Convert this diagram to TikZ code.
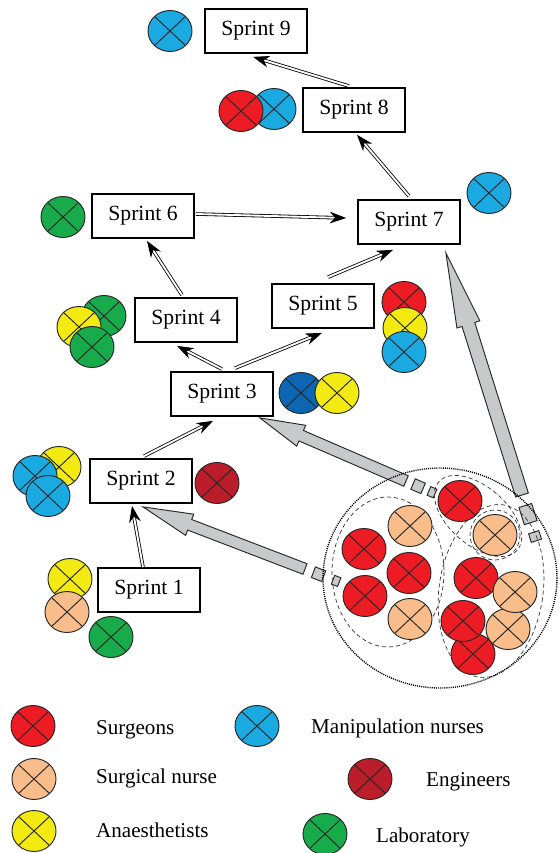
\documentclass[tikz,border=0pt]{standalone}
\usepackage{fontspec}
\setmainfont{Liberation Serif}
\usetikzlibrary{arrows.meta}
\usetikzlibrary{calc}

\definecolor{surgeon}{HTML}{ED1C24}
\definecolor{surgnurse}{HTML}{F9BD8B}
\definecolor{anaest}{HTML}{F3EA12}
\definecolor{manipnurse}{HTML}{1AA9E1}
\definecolor{engineer}{HTML}{BB1E2A}
\definecolor{lab}{HTML}{17AB4B}
\definecolor{darkblue}{HTML}{0C66B1}
\definecolor{teamgrey}{HTML}{C8C9CB}

\tikzset{
    sprint/.style={draw,line width=1.5pt,minimum width=3.06cm,minimum height=1.32cm,inner sep=0pt,font=\fontsize{18.5}{22}\selectfont},
    flow/.style={double,double distance=1.6pt,line width=0.7pt,-{Stealth[length=14pt,width=10pt,inset=4.5pt]}},
    member/.style={draw=black!85,line width=0.8pt},
    teamflow/.style={draw=black!85,fill=teamgrey,line width=0.8pt},
    subteam/.style={draw=black!80,line width=0.6pt,dash pattern=on 3.5pt off 2.5pt},
    team/.style={draw=black,line width=1.2pt,dash pattern=on 0.9pt off 0.9pt},
    legend/.style={anchor=base west,font=\fontsize{18}{22}\selectfont}
}

\newcommand{\member}[2]{%
    \filldraw[member,fill=#2] (#1) ellipse [x radius=22,y radius=20.5];
    \draw[member] ($(#1)+(-15.5,-14.5)$) -- ($(#1)+(15.5,14.5)$)
        ($(#1)+(-15.5,14.5)$) -- ($(#1)+(15.5,-14.5)$);}
\newcommand{\teamarrow}[5]{%
    \coordinate (neck) at ($(#2)!#3!(#1)$);
    \filldraw[teamflow] ($(#1)!#4!90:(#2)$) -- ($(neck)!#4!90:(#2)$) -- ($(neck)!#5!90:(#2)$) -- (#2)
        -- ($(neck)!#5!-90:(#2)$) -- ($(neck)!#4!-90:(#2)$) -- ($(#1)!#4!-90:(#2)$) -- cycle;}
\newcommand{\teambit}[5]{%
    \coordinate (bita) at ($(#1)!-#3!(#2)$);
    \coordinate (bitb) at ($(#1)!-#4!(#2)$);
    \filldraw[teamflow] ($(bita)!#5!90:(#2)$) -- ($(bitb)!#5!90:(#2)$) -- ($(bitb)!#5!-90:(#2)$)
        -- ($(bita)!#5!-90:(#2)$) -- cycle;}

\begin{document}
\begin{tikzpicture}[x=0.03cm,y=-0.03cm]
        \useasboundingbox (0,0) rectangle (558,853);

        \node[sprint] (s1) at (149,590) {Sprint 1};
        \node[sprint] (s2) at (141,481) {Sprint 2};
        \node[sprint] (s3) at (222,394) {Sprint 3};
        \node[sprint] (s4) at (186,320) {Sprint 4};
        \node[sprint] (s5) at (323,306) {Sprint 5};
        \node[sprint] (s6) at (143,216) {Sprint 6};
        \node[sprint] (s7) at (409,222) {Sprint 7};
        \node[sprint] (s8) at (354,110) {Sprint 8};
        \node[sprint] (s9) at (256,31) {Sprint 9};

        \draw[flow] ($(s1.north)+(-6,0)$) -- ($(s2.south)+(-9,2)$);
        \draw[flow] ($(s2.north)+(3,-2)$) -- ($(s3.south)+(-9,4)$);
        \draw[flow] ($(s3.north)+(0,-2)$) -- ($(s4.south)+(-9,3)$);
        \draw[flow] ($(s3.north)+(13,-3)$) -- ($(s5.south)+(-1,4)$);
        \draw[flow] ($(s4.north)+(-4,-2)$) -- ($(s6.south)+(4,2)$);
        \draw[flow] ($(s6.east)+(1,-2)$) -- ($(s7.west)+(-11,-4)$);
        \draw[flow] ($(s5.north)+(5,-6)$) -- ($(s7.south)+(-16,5)$);
        \draw[flow] ($(s7.north)+(0,-3)$) -- ($(s8.south)+(3,2)$);
        \draw[flow] ($(s8.north)+(-5,-1)$) -- ($(s9.south)+(-3,3)$);

        \coordinate (tail1) at (305,569);
        \coordinate (tip1) at ($(s2.south)+(2,3)$);
        \teamarrow{tail1}{tip1}{1.5cm}{0.17cm}{0.34cm}
        \teambit{tail1}{tip1}{0.27cm}{0.6cm}{0.17cm}
        \teambit{tail1}{tip1}{0.9cm}{1.1cm}{0.14cm}
        \coordinate (tail2) at (406,481);
        \coordinate (tip2) at ($(s3.south east)+(-14,1)$);
        \teamarrow{tail2}{tip2}{1.35cm}{0.17cm}{0.34cm}
        \teambit{tail2}{tip2}{0.23cm}{0.56cm}{0.17cm}
        \teambit{tail2}{tip2}{0.75cm}{0.95cm}{0.14cm}
        \coordinate (tail3) at (522,495);
        \coordinate (tip3) at ($(s7.south east)+(-15,8)$);
        \teamarrow{tail3}{tip3}{2.25cm}{0.2cm}{0.36cm}
        \teambit{tail3}{tip3}{0.33cm}{0.87cm}{0.2cm}
        \teambit{tail3}{tip3}{1.17cm}{1.44cm}{0.16cm}

        \draw[team] (440,578) ellipse [x radius=117,y radius=110];
        \draw[subteam] (388,572) ellipse [x radius=56,y radius=75];
        \draw[subteam,rotate around={-41:(478,516)}] (478,516) ellipse [x radius=52,y radius=29];
        \draw[subteam] (495,535) circle [radius=25];
        \draw[subteam,rotate around={-8:(491,591)}] (491,591) ellipse [x radius=52,y radius=87];

        \member{170,31}{manipnurse}
        \member{274,109}{manipnurse}
        \member{241,111}{surgeon}
        \member{489,193}{manipnurse}
        \member{63,217}{lab}
        \member{404,302}{surgeon}
        \member{405,328}{anaest}
        \member{404,352}{manipnurse}
        \member{104,316}{lab}
        \member{79,327}{anaest}
        \member{92,347}{lab}
        \member{301,393}{darkblue}
        \member{337,393}{anaest}
        \member{59,467}{anaest}
        \member{35,476}{manipnurse}
        \member{48,496}{manipnurse}
        \member{217,483}{engineer}
        \member{70,579}{anaest}
        \member{67,612}{surgnurse}
        \member{111,637}{lab}

        \member{410,526}{surgnurse}
        \member{364,549}{surgeon}
        \member{409,573}{surgeon}
        \member{365,596}{surgeon}
        \member{410,619}{surgnurse}
        \member{460,501}{surgeon}
        \member{495,535}{surgnurse}
        \member{473,654}{surgeon}
        \member{476,578}{surgeon}
        \member{508,629}{surgnurse}
        \member{515,592}{surgnurse}
        \member{463,621}{surgeon}

        \member{33,726}{surgeon}
        \member{34,779}{surgnurse}
        \member{34,831}{anaest}
        \member{257,726}{manipnurse}
        \member{370,779}{engineer}
        \member{325,834}{lab}
        \node[legend] (lsurgeon) at (92,734) {Surgeons};
        \node[legend] (lsurgnurse) at (92,783) {Surgical nurse};
        \node[legend] (lanaest) at (92,837) {Anaesthetists};
        \node[legend] (lmanip) at (307,733) {Manipulation nurses};
        \node[legend] (lengineer) at (422,786) {Engineers};
        \node[legend] (llab) at (372,842) {Laboratory};
\end{tikzpicture}
\end{document}
